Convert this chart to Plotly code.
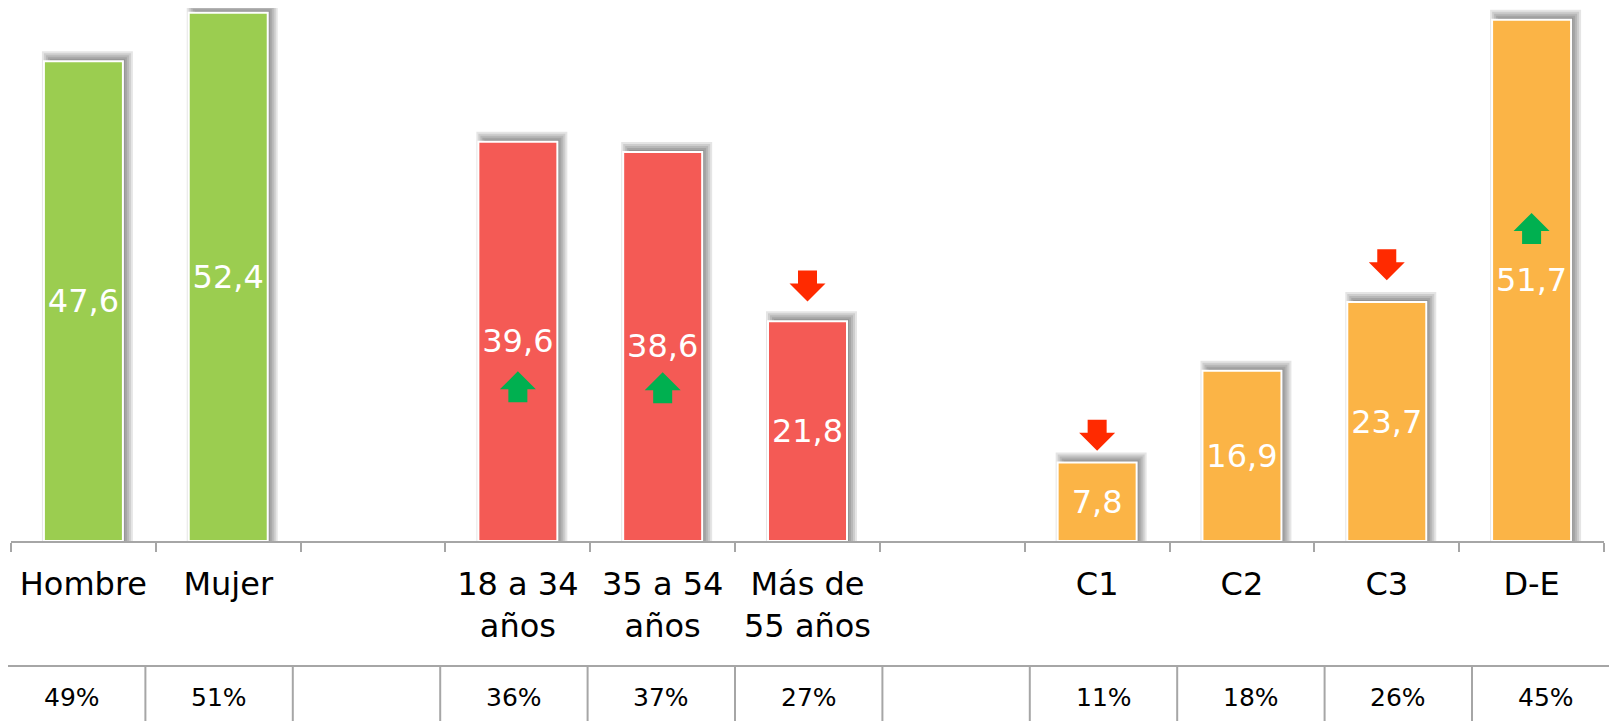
import plotly.graph_objects as go

# ---------------- data ----------------
categories = ["Hombre", "Mujer", " ", "18 a 34<br>años", "35 a 54<br>años",
              "Más de<br>55 años", "  ", "C1", "C2", "C3", "D-E"]
values = [47.6, 52.4, None, 39.6, 38.6, 21.8, None, 7.8, 16.9, 23.7, 51.7]
groups = ["sexo", "sexo", None, "edad", "edad", "edad", None, "nse", "nse", "nse", "nse"]
shares = ["49%", "51%", "", "36%", "37%", "27%", "", "11%", "18%", "26%", "45%"]

arrow_cats = ["18 a 34<br>años", "35 a 54<br>años", "Más de<br>55 años", "C1", "C3", "D-E"]
arrow_dirs = ["up", "up", "down", "down", "down", "up"]
arrow_levels = [15.3, 15.2, 25.3, 10.5, 27.4, 31.0]

# ---------------- style ----------------
group_colors = {"sexo": "#9BCD50", "edad": "#F45A55", "nse": "#FBB446"}
arrow_colors = {"up": "#00B050", "down": "#FF2A00"}
FONT = "DejaVu Sans"
GRID = "#A6A6A6"

OFF = 8                       # page body margin offset
W, H = 1617 - OFF, 721 - OFF
ML, MR, MT, MB = 11 - OFF, 13, 0, 180
plot_w = W - ML - MR
plot_h = H - MT - MB
n = len(categories)
cw = plot_w / n              # px per category
ppu = 10.08                  # px per unit
y_max = plot_h / ppu
bw = 79                      # bar width px

colors = [group_colors[g] if g else "rgba(0,0,0,0)" for g in groups]
labels = ["" if v is None else f"{v:.1f}".replace(".", ",") for v in values]

fig = go.Figure()

# soft shadow (several translucent layers, shifted up-right)
dx, dy = 4, 4
for e in [-2, 0, 2, 4, 6]:
    fig.add_trace(go.Bar(
        x=categories,
        y=[None if v is None else v + (dy + e) / ppu for v in values],
        width=(bw + 2 * e) / cw,
        offset=(-bw / 2 - e + dx) / cw,
        marker=dict(color="rgba(0,0,0,0.1)", line=dict(width=0)),
        hoverinfo="skip", cliponaxis=False,
    ))

# main bars
fig.add_trace(go.Bar(
    x=categories,
    y=values,
    width=bw / cw,
    marker=dict(color=colors, line=dict(color="white", width=2)),
    text=labels,
    textposition="inside",
    insidetextanchor="middle",
    textangle=0,
    constraintext="none",
    textfont=dict(family=FONT, size=32, color="white"),
    hoverinfo="skip", cliponaxis=False,
))

# block arrows
up_path = "M -9.5,-15.5 L 9.5,-15.5 L 9.5,-2.5 L 18,-2.5 L 0,15.5 L -18,-2.5 L -9.5,-2.5 Z"
down_path = "M -9.5,15.5 L 9.5,15.5 L 9.5,2.5 L 18,2.5 L 0,-15.5 L -18,2.5 L -9.5,2.5 Z"
shapes = []
for c, d, lv in zip(arrow_cats, arrow_dirs, arrow_levels):
    shapes.append(dict(
        type="path", xref="x", yref="y",
        xsizemode="pixel", ysizemode="pixel",
        xanchor=categories.index(c), yanchor=lv,
        path=up_path if d == "up" else down_path,
        fillcolor=arrow_colors[d], line=dict(width=0), layer="above",
    ))

# table below (page pixel positions converted to paper coords)
def px_to_xpaper(px):
    return (px - OFF - ML) / plot_w

def py_to_ypaper(py):
    return (MT + plot_h - (py - OFF)) / plot_h

tbl_left, col_w = -2, 147.4
line_y, bottom_y, text_y = 666, 721, 697.5
shapes.append(dict(type="line", xref="paper", yref="paper",
                   x0=px_to_xpaper(0), x1=px_to_xpaper(1625),
                   y0=py_to_ypaper(line_y), y1=py_to_ypaper(line_y),
                   line=dict(color=GRID, width=2)))
for k in range(1, n):
    xp = px_to_xpaper(tbl_left + col_w * k)
    shapes.append(dict(type="line", xref="paper", yref="paper",
                       x0=xp, x1=xp,
                       y0=py_to_ypaper(line_y), y1=py_to_ypaper(bottom_y + 5),
                       line=dict(color=GRID, width=2)))

annotations = []
for k, s in enumerate(shares):
    if not s:
        continue
    annotations.append(dict(
        x=px_to_xpaper(tbl_left + col_w * (k + 0.5)), y=py_to_ypaper(text_y),
        xref="paper", yref="paper", text=s, showarrow=False,
        xanchor="center", yanchor="middle",
        font=dict(family=FONT, size=25, color="black"),
    ))

fig.update_layout(
    width=W, height=H,
    margin=dict(l=ML, r=MR, t=MT, b=MB, pad=0),
    paper_bgcolor="white", plot_bgcolor="white",
    barmode="overlay", showlegend=False,
    shapes=shapes, annotations=annotations,
    font=dict(family=FONT, color="black"),
    xaxis=dict(
        type="category", categoryorder="array", categoryarray=categories,
        range=[-0.5, n - 0.5],
        tickson="boundaries", ticks="outside", ticklen=9, tickwidth=2,
        tickcolor=GRID, showline=True, linecolor=GRID, linewidth=2,
        showgrid=False, zeroline=False,
        ticklabelstandoff=14,
        tickfont=dict(family=FONT, size=32, color="black"),
        fixedrange=True,
    ),
    yaxis=dict(visible=False, range=[0, y_max], fixedrange=True,
               showgrid=False, zeroline=False),
)

fig.write_html("out.html")
